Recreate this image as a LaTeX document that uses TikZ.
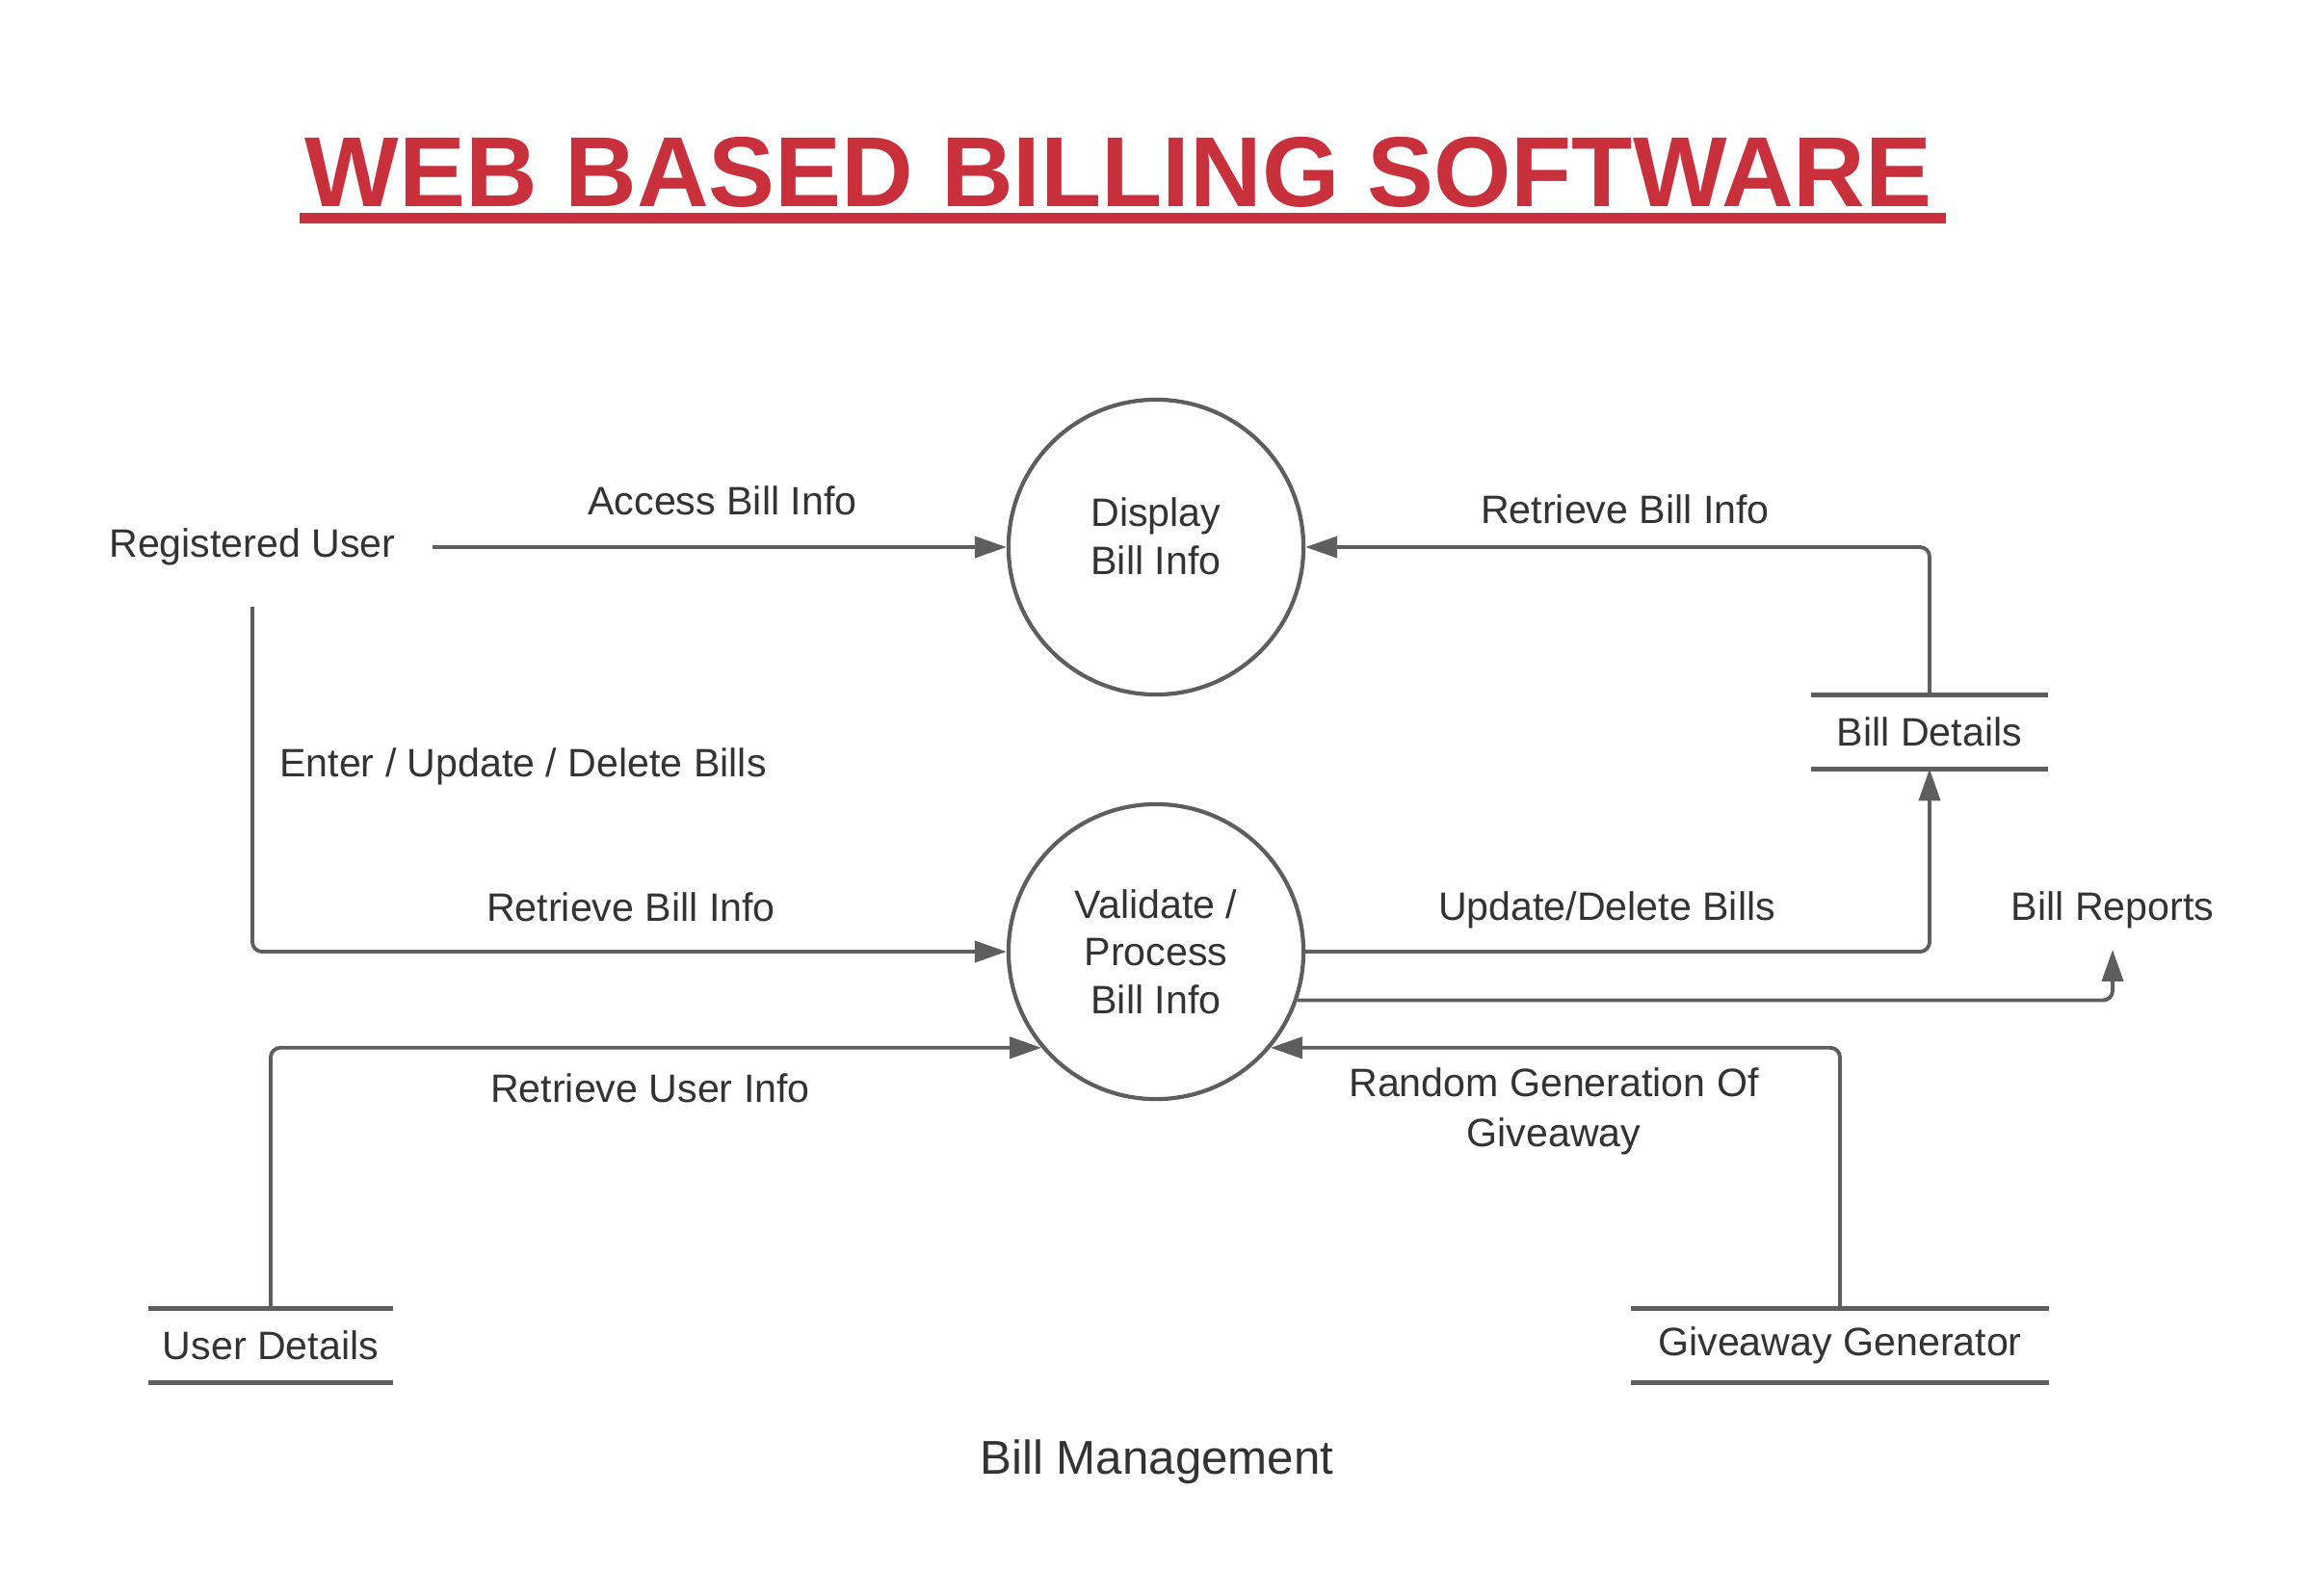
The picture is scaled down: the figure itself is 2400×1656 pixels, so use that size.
\documentclass[tikz,border=0pt]{standalone}
\usepackage{fontspec}
\setmainfont{Liberation Sans}
\usetikzlibrary{arrows.meta}

\definecolor{titlered}{RGB}{200,48,60}
\definecolor{linegray}{RGB}{94,94,94}
\definecolor{textgray}{RGB}{51,51,51}

\tikzset{
  process/.style={circle, draw=linegray, line width=1.2pt, minimum size=3.06cm,
    inner sep=0pt, align=center, text=textgray, font=\fontsize{11.7}{14.1}\selectfont},
  store/.style={minimum height=0.75cm, inner sep=0pt, text=textgray,
    font=\fontsize{11.7}{14.1}\selectfont},
  storeline/.style={draw=linegray, line width=1.4pt},
  lbl/.style={text=textgray, inner sep=0.1cm, align=center,
    font=\fontsize{11.7}{14.1}\selectfont},
  flow/.style={draw=linegray, line width=1.1pt, rounded corners=0.1cm,
    -{Triangle[length=0.33cm,width=0.22cm]}},
}

\begin{document}
\begin{tikzpicture}[x=0.01cm, y=-0.01cm]
  \fill[white] (0,0) rectangle (2400,1656);
  \useasboundingbox (0,0) rectangle (2400,1656);

  % title
  \node[font=\fontsize{29.4}{34}\bfseries\selectfont, text=titlered, inner sep=0pt] (title) at (1161,179) {WEB BASED BILLING SOFTWARE};
  \draw[titlered, line width=0.11cm] ([xshift=-0.05cm,yshift=-0.105cm]title.south west) -- ([xshift=0.14cm,yshift=-0.105cm]title.south east);

  % processes
  \node[process] (disp) at (1200,568) {};
  \node[lbl] (dispText) at ([yshift=0.11cm]disp.center) {Display\\Bill Info};
  \node[process] (val) at (1200,988) {Validate /\\Process\\Bill Info};

  % entities and stores
  \node[lbl] (reg) at (262,568) {Registered User};
  \node[lbl] (rep) at (2193,945) {Bill Reports};
  \node[store, minimum width=2.45cm] (bd) at (2003,760) {Bill Details};
  \node[store, minimum width=2.52cm] (ud) at (281,1397) {User Details};
  \node[store, minimum width=4.32cm] (gg) at (1910,1397) {Giveaway Generator};
  \foreach \s in {bd,ud,gg} {
    \draw[storeline] (\s.north west) -- (\s.north east);
    \draw[storeline] (\s.south west) -- (\s.south east);
  }
  \node[text=textgray, font=\fontsize{14}{17}\selectfont] (mgmt) at (1201,1518) {Bill Management};

  % flows
  \draw[flow] ([xshift=0.28cm]reg.east) -- (disp.west);
  \draw[flow] (bd.north) |- (disp.east);
  \draw[flow] ([yshift=-0.32cm]reg.south) |- (val.west);
  \draw[flow] (val.east) -| (bd.south);
  \draw[flow] (val.-19) -| ([yshift=-0.11cm]rep.south);
  \draw[flow] (ud.north) |- (val.220);
  \draw[flow] (gg.north) |- (val.-40);

  % flow labels
  \node[lbl] (lAccess) at (750,520) {Access Bill Info};
  \node[lbl] (lRetTop) at (1687,529) {Retrieve Bill Info};
  \node[lbl] (lEnter) at (543,796) {Enter / Update / Delete Bills};
  \node[lbl] (lRetLeft) at (655,942) {Retrieve Bill Info};
  \node[lbl] (lUpd) at (1668,945) {Update/Delete Bills};
  \node[lbl] (lUser) at (675,1130) {Retrieve User Info};
  \node[lbl, font=\fontsize{11.7}{14.8}\selectfont] (lRand) at (1613,1154) {Random Generation Of\\Giveaway};
\end{tikzpicture}
\end{document}
